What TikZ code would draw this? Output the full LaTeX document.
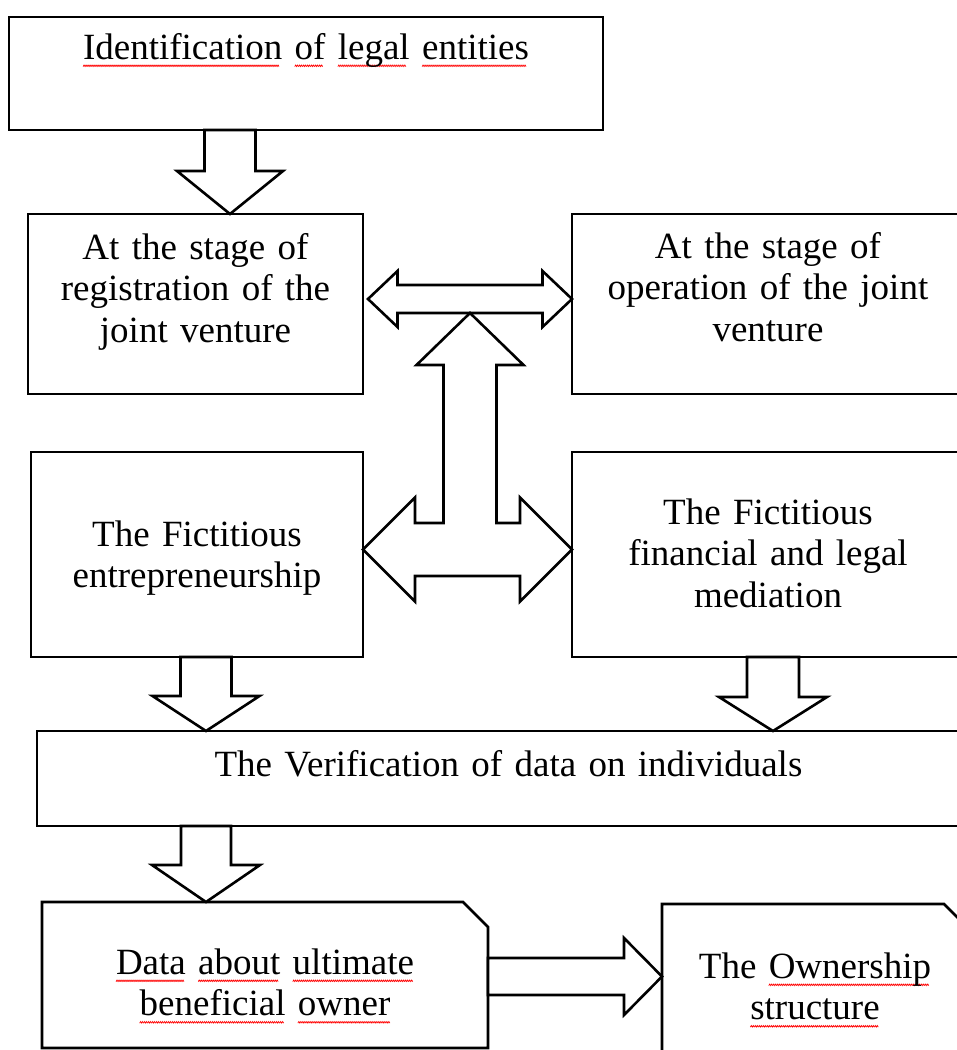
\documentclass[tikz,border=0pt]{standalone}
\usepackage{fontspec}
\setmainfont{Liberation Serif}
\usetikzlibrary{positioning,calc}

\newcommand{\boxfont}{\fontsize{37pt}{41.5pt}\selectfont}
\tikzset{
  panel/.style n args={3}{draw, line width=2.7pt, inner sep=0pt, outer sep=0pt,
    text width=#1, text height=#2, text depth=#3, align=center, font=\boxfont},
  cutpanel/.style n args={3}{panel={#1}{#2}{#3}, draw=none},
  cutline/.style={draw, line width=2.7pt, line join=miter},
  blockarrow/.style={draw, fill=white, line width=2.6pt, line join=miter},
  squigline/.style={draw=red, line width=0.7pt}
}
% red spell-check wave under a word
\newcommand{\squig}{\tikz[x=1pt,y=1pt,baseline=0pt]{\useasboundingbox (0,0) rectangle (4,2.4);
  \draw[squigline] (0,0.4) -- (1,2) -- (2,0.4) -- (3,2) -- (4,0.4);}}
\newsavebox{\spellbox}
\newcommand{\spellmark}[1]{\leavevmode\sbox{\spellbox}{#1}%
  \rlap{\raisebox{-8pt}{\hbox to \wd\spellbox{\leaders\hbox{\squig}\hfill}}}\usebox{\spellbox}}
% box with the north east corner cut off
\newcommand{\cutframe}[2]{\draw[cutline] (#1.south west) -- (#1.north west) -- ([xshift=-#2pt]#1.north east)
  -- ([yshift=-#2pt]#1.north east) -- (#1.south east) -- cycle;}
% block arrows: start, tip, shaft half width, head half width, head length
\newcommand{\vblock}[5]{\draw[blockarrow] ($(#1)+(-#3,0)$) -- ($(#2)+(-#3,-#5)$) -- ($(#2)+(-#4,-#5)$) -- (#2)
  -- ($(#2)+(#4,-#5)$) -- ($(#2)+(#3,-#5)$) -- ($(#1)+(#3,0)$) -- cycle;}
\newcommand{\hblock}[5]{\draw[blockarrow] ($(#1)+(0,-#3)$) -- ($(#2)+(-#5,-#3)$) -- ($(#2)+(-#5,-#4)$) -- (#2)
  -- ($(#2)+(-#5,#4)$) -- ($(#2)+(-#5,#3)$) -- ($(#1)+(0,#3)$) -- cycle;}
\newcommand{\dblock}[5]{\draw[blockarrow] (#1) -- ($(#1)+(#5,-#4)$) -- ($(#1)+(#5,-#3)$) -- ($(#2)+(-#5,-#3)$)
  -- ($(#2)+(-#5,-#4)$) -- (#2) -- ($(#2)+(-#5,#4)$) -- ($(#2)+(-#5,#3)$)
  -- ($(#1)+(#5,#3)$) -- ($(#1)+(#5,#4)$) -- cycle;}

\begin{document}
\begin{tikzpicture}[x=1pt, y=-1pt]
\useasboundingbox (0,0) rectangle (957,1050);
\clip (0,0) rectangle (957,1050);

% Legal entities
\node (ident) [panel={594pt}{42pt}{71pt}, anchor=north west] at (9,17)
  {\spellmark{Identification} \spellmark{of} \spellmark{legal} \spellmark{entities}};
\node (reg-stage) [panel={335pt}{45pt}{135pt}, below right=84pt and 19pt of ident.south west]
  {At the stage of\\registration of the\\joint venture};
\node (op-stage) [panel={392pt}{44pt}{136pt}, right=209pt of reg-stage]
  {At the stage of\\operation of the joint\\venture};
\node (fict-entr) [panel={332pt}{94pt}{111pt}, below right=58pt and 3pt of reg-stage.south west]
  {The Fictitious\\entrepreneurship};
\node (fict-med) [panel={392pt}{72pt}{133pt}, right=209pt of fict-entr]
  {The Fictitious\\financial and legal\\mediation};

% Individuals
\node (verif) [panel={943pt}{45pt}{50pt}, below right=74pt and 6pt of fict-entr.south west]
  {The Verification of data on individuals};
\node (ubo) [cutpanel={446pt}{72pt}{74pt}, below right=76pt and 5pt of verif.south west]
  {\spellmark{Data} \spellmark{about} \spellmark{ultimate}\\\spellmark{beneficial} \spellmark{owner}};
\node (owner) [cutpanel={306pt}{74pt}{102pt}, below right=2pt and 174pt of ubo.north east]
  {The \spellmark{Ownership}\\\spellmark{structure}};
\cutframe{ubo}{25}
\cutframe{owner}{24}

% Down arrows
\coordinate (a1) at ([xshift=-76pt]ident.south);
\coordinate (a1-tip) at (a1 |- reg-stage.north);
\vblock{a1}{a1-tip}{25.5}{53}{43}
\coordinate (a2) at ([xshift=9pt]fict-entr.south);
\coordinate (a2-tip) at (a2 |- verif.north);
\vblock{a2}{a2-tip}{25.5}{53.5}{35}
\coordinate (a3) at ([xshift=5pt]fict-med.south);
\coordinate (a3-tip) at (a3 |- verif.north);
\vblock{a3}{a3-tip}{26}{54}{34}
\coordinate (a4) at (a2 |- verif.south);
\coordinate (a4-tip) at (a4 |- ubo.north);
\vblock{a4}{a4-tip}{25}{54}{37}

% Arrow to ownership
\coordinate (a5) at ([yshift=-1.5pt]ubo.east);
\coordinate (a5-tip) at (owner.west |- a5);
\hblock{a5}{a5-tip}{18.5}{38.5}{38}

% Two-way arrow between the stages
\coordinate (dl) at ([xshift=5pt, yshift=5pt]reg-stage.east);
\coordinate (dr) at (op-stage.west |- dl);
\dblock{dl}{dr}{14}{28}{29.5}

% Three-way arrow
\coordinate (tl) at ([yshift=5pt]fict-entr.east);
\coordinate (tr) at (fict-med.west |- tl);
\coordinate (tt) at ($(dl)!.5!(dr)+(0,14)$);
\coordinate (tj) at (tt |- tl);
\draw[blockarrow] (tl) -- ($(tl)+(52,-52)$) -- ($(tl)+(52,-26.5)$) -- ($(tj)+(-26.5,-26.5)$)
  -- ($(tt)+(-26.5,52)$) -- ($(tt)+(-53.5,52)$) -- (tt) -- ($(tt)+(53.5,52)$) -- ($(tt)+(26.5,52)$)
  -- ($(tj)+(26.5,-26.5)$) -- ($(tr)+(-52,-26.5)$) -- ($(tr)+(-52,-52)$) -- (tr)
  -- ($(tr)+(-52,52)$) -- ($(tr)+(-52,26.5)$) -- ($(tl)+(52,26.5)$) -- ($(tl)+(52,52)$) -- cycle;
\end{tikzpicture}
\end{document}
